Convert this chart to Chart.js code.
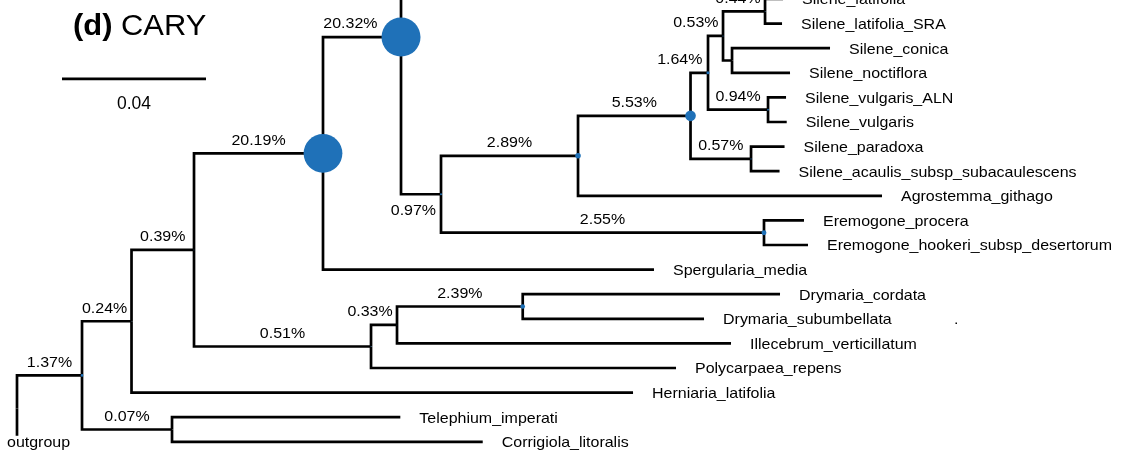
<!DOCTYPE html>
<html>
<head>
<meta charset="utf-8">
<script src="https://cdn.jsdelivr.net/npm/chart.js@4.4.1/dist/chart.umd.min.js"></script>
<style>
  html, body { margin: 0; padding: 0; background: #ffffff; overflow: hidden; }
  canvas { display: block; }
</style>
</head>
<body>
<canvas id="tree" width="1132" height="456"></canvas>
<script>
// ---- Tree data: tips (top to bottom), their parents and branch lengths (substitutions/site)
const tipNames = [
  "Silene_latifolia", "Silene_latifolia_SRA", "Silene_conica", "Silene_noctiflora",
  "Silene_vulgaris_ALN", "Silene_vulgaris", "Silene_paradoxa",
  "Silene_acaulis_subsp_subacaulescens", "Agrostemma_githago", "Eremogone_procera",
  "Eremogone_hookeri_subsp_desertorum", "Spergularia_media", "Drymaria_cordata",
  "Drymaria_subumbellata", "Illecebrum_verticillatum", "Polycarpaea_repens",
  "Herniaria_latifolia", "Telephium_imperati", "Corrigiola_litoralis"
];
const tipParents = [
  "n044", "n044", "nCN", "nCN", "n094", "n094", "n057", "n057", "n289", "n255",
  "n255", "n2019", "n239", "n239", "n033", "n051", "n024", "n007", "n007"
];
const tipLengths = [
  0.00500, 0.00472, 0.02722, 0.01611, 0.00500, 0.00519, 0.00931, 0.00792, 0.08444, 0.01111,
  0.01222, 0.09194, 0.07147, 0.05036, 0.09278, 0.08472, 0.13931, 0.06342, 0.08631
];

// outgroup hangs from the root on the bottom row
const outgroupName = "outgroup";

// ---- Internal nodes: parent, branch length and percentage shown on the branch
const nodeNames   = ["root", "n137", "n024", "n007", "n039", "n051", "n033", "n239", "n2019", "n2032",
                     "nUp", "n097", "n289", "n255", "n553", "n164", "n057", "n053", "n094", "n044", "nCN"];
const nodeParents = [null, "root", "n137", "n137", "n024", "n039", "n051", "n033", "n039", "n2019",
                     "n2032", "n2032", "n097", "n097", "n289", "n553", "n553", "n164", "n164", "n053", "n053"];
const nodeLengths = [0, 0.01806, 0.01375, 0.02500, 0.01736, 0.04917, 0.00722, 0.03492, 0.03583, 0.02167,
                     0.01000, 0.01111, 0.03806, 0.08972, 0.03125, 0.00486, 0.01681, 0.00417, 0.01667, 0.01167, 0.00250];
const nodePercent = [null, 1.37, 0.24, 0.07, 0.39, 0.51, 0.33, 2.39, 20.19, 20.32,
                     null, 0.97, 2.89, 2.55, 5.53, 1.64, 0.57, 0.53, 0.94, 0.44, null];

// clade continuing above the top edge of the figure (row index)
const offPageRow = -4.84;

// scale bar
const scaleBarLength = 0.04;
const scaleBarStart = 0.0125;
const scaleBarRow = 3.25;

// ---- Layout: x = cumulative branch length, y = row index
const pos = {};
tipNames.forEach((n, i) => { pos[n] = { row: i, parent: tipParents[i], len: tipLengths[i], tip: true }; });
pos[outgroupName] = { row: tipNames.length - 1, parent: "root", len: 0, tip: true };
nodeNames.forEach((n, i) => { pos[n] = { parent: nodeParents[i], len: nodeLengths[i], pct: nodePercent[i], tip: false }; });
pos["nUp"].row = offPageRow;

const children = {};
Object.keys(pos).forEach(k => {
  const p = pos[k].parent;
  if (p) (children[p] = children[p] || []).push(k);
});
function depth(k) {
  const n = pos[k];
  if (n.x !== undefined) return n.x;
  n.x = n.parent ? depth(n.parent) + n.len : 0;
  return n.x;
}
function rowOf(k) {
  const n = pos[k];
  if (n.row !== undefined) return n.row;
  const ch = children[k];
  n.row = ch.reduce((s, c) => s + rowOf(c), 0) / ch.length;
  return n.row;
}
Object.keys(pos).forEach(k => { depth(k); rowOf(k); });

// ---- Datasets
const lineColor = "#000000";
const dotColor = "#1f71b8";
const datasets = [];

Object.keys(pos).forEach(k => {
  const n = pos[k];
  if (!n.parent) return;
  const p = pos[n.parent];
  datasets.push({
    data: [{ x: p.x, y: p.row }, { x: p.x, y: n.row }, { x: n.x, y: n.row }],
    showLine: true, borderColor: lineColor, borderWidth: 2.7,
    borderJoinStyle: "miter", borderCapStyle: "butt",
    pointRadius: 0, fill: false, order: 2
  });
});

const pctNodes = nodeNames.filter(k => pos[k].pct != null);
const dotRadius = v => v * 0.96;
datasets.push({
  data: pctNodes.map(k => ({ x: pos[k].x, y: pos[k].row })),
  pointRadius: pctNodes.map(k => dotRadius(pos[k].pct)),
  pointBackgroundColor: dotColor, pointBorderWidth: 0, order: 0
});

datasets.push({
  data: [{ x: scaleBarStart, y: scaleBarRow }, { x: scaleBarStart + scaleBarLength, y: scaleBarRow }],
  showLine: true, borderColor: lineColor, borderWidth: 2.8, borderCapStyle: "butt",
  pointRadius: 0, order: 1
});

// ---- Text
const FONT = '"Liberation Sans", Arial, Helvetica, sans-serif';
const labelsBelow = new Set(["n097"]);

function drawText(ctx, str, x, y, size, opts = {}) {
  const sx = opts.sx || 1.065;
  ctx.save();
  ctx.font = (opts.bold ? "bold " : "") + size + "px " + FONT;
  ctx.fillStyle = opts.color || "#000";
  ctx.textBaseline = "alphabetic";
  const w = ctx.measureText(str).width * sx;
  let left = x;
  if (opts.align === "center") left = x - w / 2;
  if (opts.align === "right") left = x - w;
  if (opts.halo) {
    ctx.fillStyle = "#fff";
    ctx.fillRect(left - 1, y - size * 0.76, w + 2, size * 1.0);
    ctx.fillStyle = opts.color || "#000";
  }
  ctx.translate(left, y);
  ctx.scale(sx, 1);
  ctx.fillText(str, 0, 0);
  ctx.restore();
  return w;
}

const treeText = {
  id: "treeText",
  afterDatasetsDraw(chart) {
    const { ctx, scales: { x, y } } = chart;
    const fs = 15;
    const capMid = fs * 0.358;

    // tip labels
    Object.keys(pos).forEach(k => {
      const n = pos[k];
      if (!n.tip) return;
      const py = y.getPixelForValue(n.row) + capMid;
      if (k === outgroupName) {
        drawText(ctx, k, x.getPixelForValue(n.x) - 10, py, fs, { halo: true });
      } else {
        drawText(ctx, k, x.getPixelForValue(n.x) + 19, py, fs, { halo: true });
      }
    });

    // branch percentages
    ctx.save();
    ctx.font = fs + "px " + FONT;
    pctNodes.forEach(k => {
      const n = pos[k];
      const p = pos[n.parent];
      const label = n.pct.toFixed(2) + "%";
      const w = ctx.measureText(label).width * 1.065;
      const x0 = x.getPixelForValue(p.x), x1 = x.getPixelForValue(n.x);
      const cx = Math.min((x0 + x1) / 2, x1 - dotRadius(n.pct) - 4 - w / 2);
      const py = y.getPixelForValue(n.row);
      const by = labelsBelow.has(k) ? py + 15 + capMid : py - 14 + capMid;
      drawText(ctx, label, cx, by, fs, { align: "center" });
    });
    ctx.restore();

    // stray point on the Drymaria_subumbellata row
    drawText(ctx, ".", x.getPixelForValue(0.2603), y.getPixelForValue(13) + capMid, fs);

    // scale bar value
    const sbMid = x.getPixelForValue(scaleBarStart + scaleBarLength / 2);
    drawText(ctx, String(scaleBarLength), sbMid, y.getPixelForValue(scaleBarRow) + 30.5, 17.5, { align: "center", sx: 1.0 });

    // panel title
    const tx = 73, ty = 35;
    const w1 = drawText(ctx, "(d)", tx, ty, 30, { bold: true, sx: 1.03 });
    drawText(ctx, " CARY", tx + w1, ty, 30, { sx: 1.03 });
  }
};

new Chart(document.getElementById("tree"), {
  type: "scatter",
  data: { datasets },
  options: {
    responsive: false,
    animation: false,
    devicePixelRatio: 1,
    events: [],
    layout: { padding: 0, autoPadding: false },
    plugins: { legend: { display: false }, tooltip: { enabled: false } },
    scales: {
      x: { type: "linear", display: false, min: -17 / 3600, max: 1115 / 3600 },
      y: { type: "linear", display: false, min: 1 / 24.6, max: 457 / 24.6, reverse: true }
    }
  },
  plugins: [treeText]
});
</script>
</body>
</html>
